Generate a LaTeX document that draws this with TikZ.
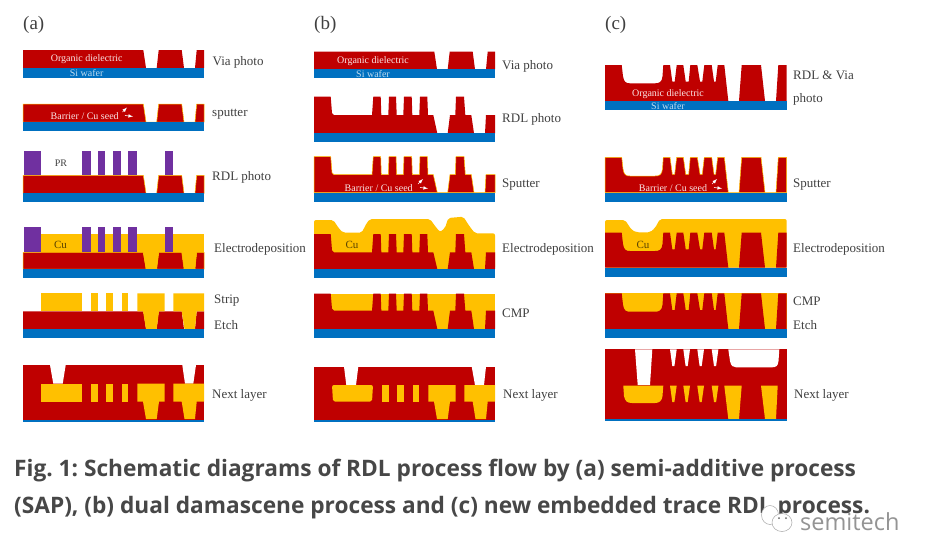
\documentclass[tikz,border=0pt]{standalone}
\usepackage{fontspec}
\setmainfont{Liberation Serif}
\newfontfamily\capfont{Open Sans}
\tikzset{>=latex}
\definecolor{cred}{HTML}{BF0000}
\definecolor{cblue}{HTML}{0070C0}
\definecolor{ccu}{HTML}{FFC000}
\definecolor{cpr}{HTML}{7030A0}
% profiles: #1 top, #2 shelf or base, #3 base
\newcommand{\profileA}[2]{(23,#2) -- (23,#1) -- (143.3,#1) -- (146,#2) -- (156.7,#2) -- (158.7,#1) -- (181.7,#1) -- (184,#2) -- (195,#2) -- (196.7,#1) -- (204,#1) -- (204,#2) -- cycle}
\newcommand{\profileB}[3]{(23,#3) -- (23,#1) -- (39.7,#1) -- (41,#2-2) -- (43,#2) -- (81,#2) -- (82.3,#1) -- (89.7,#1) -- (90.3,#2) -- (97.3,#2) -- (98,#1) -- (105,#1) -- (105.7,#2) -- (112.3,#2) -- (113,#1) -- (120.7,#1) -- (121.3,#2) -- (128.3,#2) -- (129,#1) -- (136.3,#1) -- (137,#2) -- (142.3,#2) -- (146.3,#3) -- (156.7,#3) -- (159,#2) -- (164.3,#2) -- (165,#1) -- (173,#1) -- (174.3,#2) -- (180.3,#2) -- (183,#3) -- (194,#3) -- (195,#2) -- (204,#2) -- (204,#3) -- cycle}
\newcommand{\profileC}[3]{(23,#3) -- (23,#1) -- (39.7,#1) -- (41,#2-7) .. controls (42,#2-1) and (44,#2) .. (48,#2) -- (73,#2) .. controls (77,#2) and (80,#2-1) .. (80.5,#2-7) -- (81.3,#1) -- (88,#1) -- (90.3,#2-1.7) -- (92.7,#2-1.7) -- (94.7,#1) -- (101.3,#1) -- (103.7,#2-1.7) -- (106.7,#2-1.7) -- (108.3,#1) -- (115.3,#1) -- (118,#2-1.7) -- (120.3,#2-1.7) -- (122.3,#1) -- (129.7,#1) -- (132,#2-1.7) -- (133.7,#2-1.7) -- (135.7,#1) -- (142.3,#1) -- (146.3,#3) -- (157,#3) -- (159.7,#1) -- (179,#1) -- (183,#3) -- (194,#3) -- (196.3,#1) -- (204.7,#1) -- (204.7,#3) -- cycle}
% Cu lines and vias: #1 top, #2 pad bottom, #3 via bottom
\newcommand{\padsCu}[3]{
  \foreach \x/\w in {90.7/97.7,106/113,121.7/128.3}{\fill[copper] (\x,#1) rectangle (\w,#2);}
  \fill[copper] (137.3,#1) -- (137.3,#2) -- (143,#2) -- (146,#3) -- (156.7,#3) -- (159,#2) -- (164.7,#2) -- (164.7,#1) -- cycle;
  \fill[copper] (173.3,#1) -- (173.3,#2) -- (181.7,#2) -- (184.5,#3) -- (195,#3) -- (196.7,#2) -- (204,#2) -- (204,#1) -- cycle;
}
\begin{document}
\frenchspacing
\begin{tikzpicture}[x=1pt,y=-1pt]
  \tikzstyle{dielectric}=[fill=cred];
  \tikzstyle{seeded}=[fill=cred,draw=ccu,line width=.5pt];
  \tikzstyle{wafer}=[fill=cblue];
  \tikzstyle{copper}=[fill=ccu];
  \tikzstyle{resist}=[fill=cpr];
  \tikzstyle{step label}=[anchor=west,inner sep=0pt,yshift=-1pt,text=black!75,font=\fontsize{13}{15}\selectfont];
  \tikzstyle{panel label}=[anchor=west,inner sep=0pt,text=black!75,font=\fontsize{19}{21}\selectfont];
  \tikzstyle{inner label}=[inner sep=0pt,text=white!90!cred,font=\fontsize{10}{12}\selectfont];
  \tikzstyle{si label}=[inner sep=0pt,text=white!75!cblue,font=\fontsize{10}{12}\selectfont];
  \tikzstyle{cu label}=[inner sep=0pt,text=black!65!ccu,font=\fontsize{11}{12}\selectfont];
  \tikzstyle{sparks}=[white,line width=.6pt,->];
  \tikzstyle{caption line}=[anchor=west,inner sep=0pt,text=black!72,font=\capfont\bfseries\fontsize{22.68}{27}\selectfont];
  \useasboundingbox (0,0) rectangle (928,558);
  \fill[white] (0,0) rectangle (928,558);

  % (a) semi-additive
  \node[panel label] (labelA) at (23,25) {(a)};
  \fill[dielectric] \profileA{50}{68};
  \fill[wafer] (23,68) rectangle (204,78);
  \node[inner label] (dielA) at (86.7,59) {Organic dielectric};
  \node[si label] (siA) at (86.7,73) {Si wafer};
  \node[step label] (viaA) at (212.5,61) {Via photo};

  \path[seeded] \profileA{104}{122};
  \fill[wafer] (23,122) rectangle (204,130.7);
  \node[inner label] (seedA) at (84.7,115.7) {Barrier / Cu seed};
  \draw[sparks] (122.5,112) -- (127,107.5);
  \draw[sparks] (125,115.5) -- (133,116.5);
  \node[step label] (sputA) at (212,113) {sputter};

  \path[seeded] \profileA{175.3}{193.3};
  \fill[wafer] (23,193.3) rectangle (204,202);
  \foreach \x/\w in {24/40.7,82/90.7,98/105.3,113/120.7,128.3/136.7,164.7/172.7}{
    \fill[resist] (\x,150.7) rectangle (\w,175.3);
  }
  \node[inner sep=0pt,text=black!75,font=\fontsize{10}{12}\selectfont] (prA) at (61,163.5) {PR};
  \node[step label] (rdlA) at (212,176) {RDL photo};

  \fill[copper] (40.7,233.7) rectangle (204,269);
  \path[seeded] \profileA{252.3}{269};
  \padsCu{252.3}{252.3}{269}
  \fill[wafer] (23,269) rectangle (204,278.3);
  \foreach \x/\w in {24/40.7,82/90.7,98/105.3,113/120.7,128.3/136.7,164.7/172.7}{
    \fill[resist] (\x,226.7) rectangle (\w,252.3);
  }
  \node[cu label] (cuA) at (60.5,244.5) {Cu};
  \node[step label] (elecA) at (214,248) {Electrodeposition};

  \fill[dielectric] \profileA{311.3}{329};
  \fill[copper] (40.7,293.3) rectangle (81.7,311.3);
  \padsCu{293.3}{311.3}{329}
  \fill[wafer] (23,329) rectangle (204,338.3);
  \node[step label] (stripA) at (214,300) {Strip};
  \node[step label] (etchA) at (214,324.5) {Etch};

  \fill[dielectric] (23,365) rectangle (204,420);
  \fill[white] (50,365) -- (53.3,383.7) -- (62.7,383.7) -- (65.7,365) -- cycle;
  \fill[white] (182.3,365) -- (185,383.7) -- (193.3,383.7) -- (196,365) -- cycle;
  \fill[copper] (40.7,383.7) rectangle (81.7,401.7);
  \padsCu{383.7}{401.7}{419}
  \fill[wafer] (23,420) rectangle (204,422);
  \node[step label] (nextA) at (212,394) {Next layer};

  % (b) dual damascene
  \node[panel label] (labelB) at (314,25) {(b)};
  \begin{scope}[xshift=291pt]
    \fill[dielectric] \profileA{51.7}{69.3};
    \fill[wafer] (23,69.3) rectangle (204,78);
    \node[inner label] (dielB) at (82,60.7) {Organic dielectric};
    \node[si label] (siB) at (82,74) {Si wafer};
    \node[step label] (viaB) at (211,65.5) {Via photo};

    \fill[dielectric] \profileB{96.7}{115}{133.3};
    \fill[wafer] (23,133.3) rectangle (204,142.3);
    \node[step label] (rdlB) at (211,118) {RDL photo};

    \path[seeded] \profileB{156.7}{174.7}{192.7};
    \fill[wafer] (23,192.7) rectangle (204,202);
    \node[inner label] (seedB) at (87.7,187.7) {Barrier / Cu seed};
    \draw[sparks] (127,184) -- (132,179);
    \draw[sparks] (129,187.5) -- (137,188.5);
    \node[step label] (sputB) at (211,184) {Sputter};

    \fill[copper,rounded corners=2pt] (23,269) -- (23,220) -- (42.3,220) -- (48.3,229) -- (52.3,232.7) -- (70.7,232.7) -- (75.7,223) -- (79,219) -- (139,219) -- (144,226) -- (149,232) -- (154,228) -- (157.3,218) -- (172.3,216.7) -- (179,227) -- (184,233.3) -- (204,233.3) -- (204,269) -- cycle;
    \fill[dielectric] \profileB{234}{252.3}{269};
    \fill[wafer] (23,269) rectangle (204,278.3);
    \node[cu label] (cuB) at (61,244.5) {Cu};
    \node[step label] (elecB) at (211,248) {Electrodeposition};

    \fill[copper] (23,293.7) rectangle (204,329);
    \fill[dielectric] \profileB{293.7}{310.7}{329};
    \fill[wafer] (23,329) rectangle (204,338);
    \node[step label] (cmpB) at (211,312) {CMP};

    \fill[dielectric] (23,366.7) rectangle (204,420);
    \fill[white] (53,366.7) -- (55.3,385) -- (65,385) -- (67.3,366.7) -- cycle;
    \fill[white] (180.7,366.7) -- (184,385) -- (193,385) -- (195,366.7) -- cycle;
    \fill[copper,rounded corners=2pt] (41,385) -- (42,401.7) -- (81,401.7) -- (82,385) -- cycle;
    \padsCu{385}{401.7}{419}
    \fill[wafer] (23,420) rectangle (204,422);
    \node[step label] (nextB) at (212,394) {Next layer};
  \end{scope}

  % (c) embedded trace
  \node[panel label] (labelC) at (605,25) {(c)};
  \begin{scope}[xshift=582pt]
    \fill[dielectric] \profileC{65}{83.3}{101};
    \fill[wafer] (23,101) rectangle (204.7,110.3);
    \node[inner label] (dielC) at (86,94.3) {Organic dielectric};
    \node[si label] (siC) at (86,106) {Si wafer};
    \node[step label] (rdlC) at (211,74.5) {RDL \& Via};
    \node[step label] (photoC) at (211,98.5) {photo};

    \path[seeded] \profileC{157.3}{176}{192.7};
    \fill[wafer] (23,192.7) rectangle (204.7,202);
    \node[inner label] (seedC) at (91,187.7) {Barrier / Cu seed};
    \draw[sparks] (130,184) -- (135,179);
    \draw[sparks] (132,187.5) -- (140,188.5);
    \node[step label] (sputC) at (211,184) {Sputter};

    \fill[copper,rounded corners=2pt] (23,267.7) -- (23,220) -- (43,220) -- (49.7,230) -- (54.7,232.3) -- (68,232.3) -- (73,228) -- (78,219) -- (204.7,219) -- (204.7,267.7) -- cycle;
    \fill[dielectric] \profileC{232.7}{251}{267.7};
    \fill[wafer] (23,267.7) rectangle (204.7,277);
    \node[cu label] (cuC) at (61,244.5) {Cu};
    \node[step label] (elecC) at (211,248) {Electrodeposition};

    \fill[copper] (23,293.3) rectangle (204.7,329);
    \fill[dielectric] \profileC{293.3}{311.7}{329};
    \fill[wafer] (23,329) rectangle (204.7,338);
    \node[step label] (cmpC) at (211,300) {CMP};
    \node[step label] (etchC) at (211,324) {Etch};

    % next layer, opened again from the top
    \fill[dielectric] (23,349.3) rectangle (204.7,419);
    \fill[white] (53,349.3) -- (55.7,385) -- (68,385) -- (70.3,349.3) -- cycle;
    \foreach \x in {88,101.3,115.3,129.7}{
      \fill[white] (\x,349.3) -- (\x+2.3,366) -- (\x+4.4,366) -- (\x+6.7,349.3) -- cycle;
      \fill[copper] (\x,385.7) -- (\x+2.3,402) -- (\x+4.4,402) -- (\x+6.7,385.7) -- cycle;
    }
    \fill[white] (146.3,349.3) -- (148,361) .. controls (149,366) and (151,367.3) .. (154,367.3) -- (190,367.3) .. controls (194,367.3) and (196,366) .. (196.5,361) -- (197.3,349.3) -- cycle;
    \fill[copper] (41.3,385.7) -- (42,396) .. controls (43,401) and (45,403) .. (50,403) -- (73,403) .. controls (77,403) and (80,401) .. (80.5,396) -- (81.3,385.7) -- cycle;
    \fill[copper] (142.3,385.7) -- (146.3,419) -- (157,419) -- (159.7,385.7) -- cycle;
    \fill[copper] (179,385.7) -- (183,419) -- (194,419) -- (195.7,385.7) -- cycle;
    \fill[wafer] (23,419) rectangle (204.7,421);
    \node[step label] (nextC) at (212,394) {Next layer};
  \end{scope}

  % caption
  \node[caption line] (capOne) at (14,471) {Fig. 1: Schematic diagrams of RDL process flow by (a) semi-additive process};
  \node[caption line] (capTwo) at (14,508) {(SAP), (b) dual damascene process and (c) new embedded trace RDL process.};

  % watermark
  \draw[black!35,fill=white,line width=.5pt] (770,515) ellipse (8.5 and 9.5);
  \draw[black!35,fill=white,line width=.5pt] (782,522.5) ellipse (10 and 9);
  \fill[black!60] (779,518) circle (1) (786,518) circle (1);
  \node[anchor=west,inner sep=0pt,text=black!42,font=\capfont\fontsize{23.5}{27}\selectfont] (markText) at (800,522) {semitech};
\end{tikzpicture}
\end{document}
